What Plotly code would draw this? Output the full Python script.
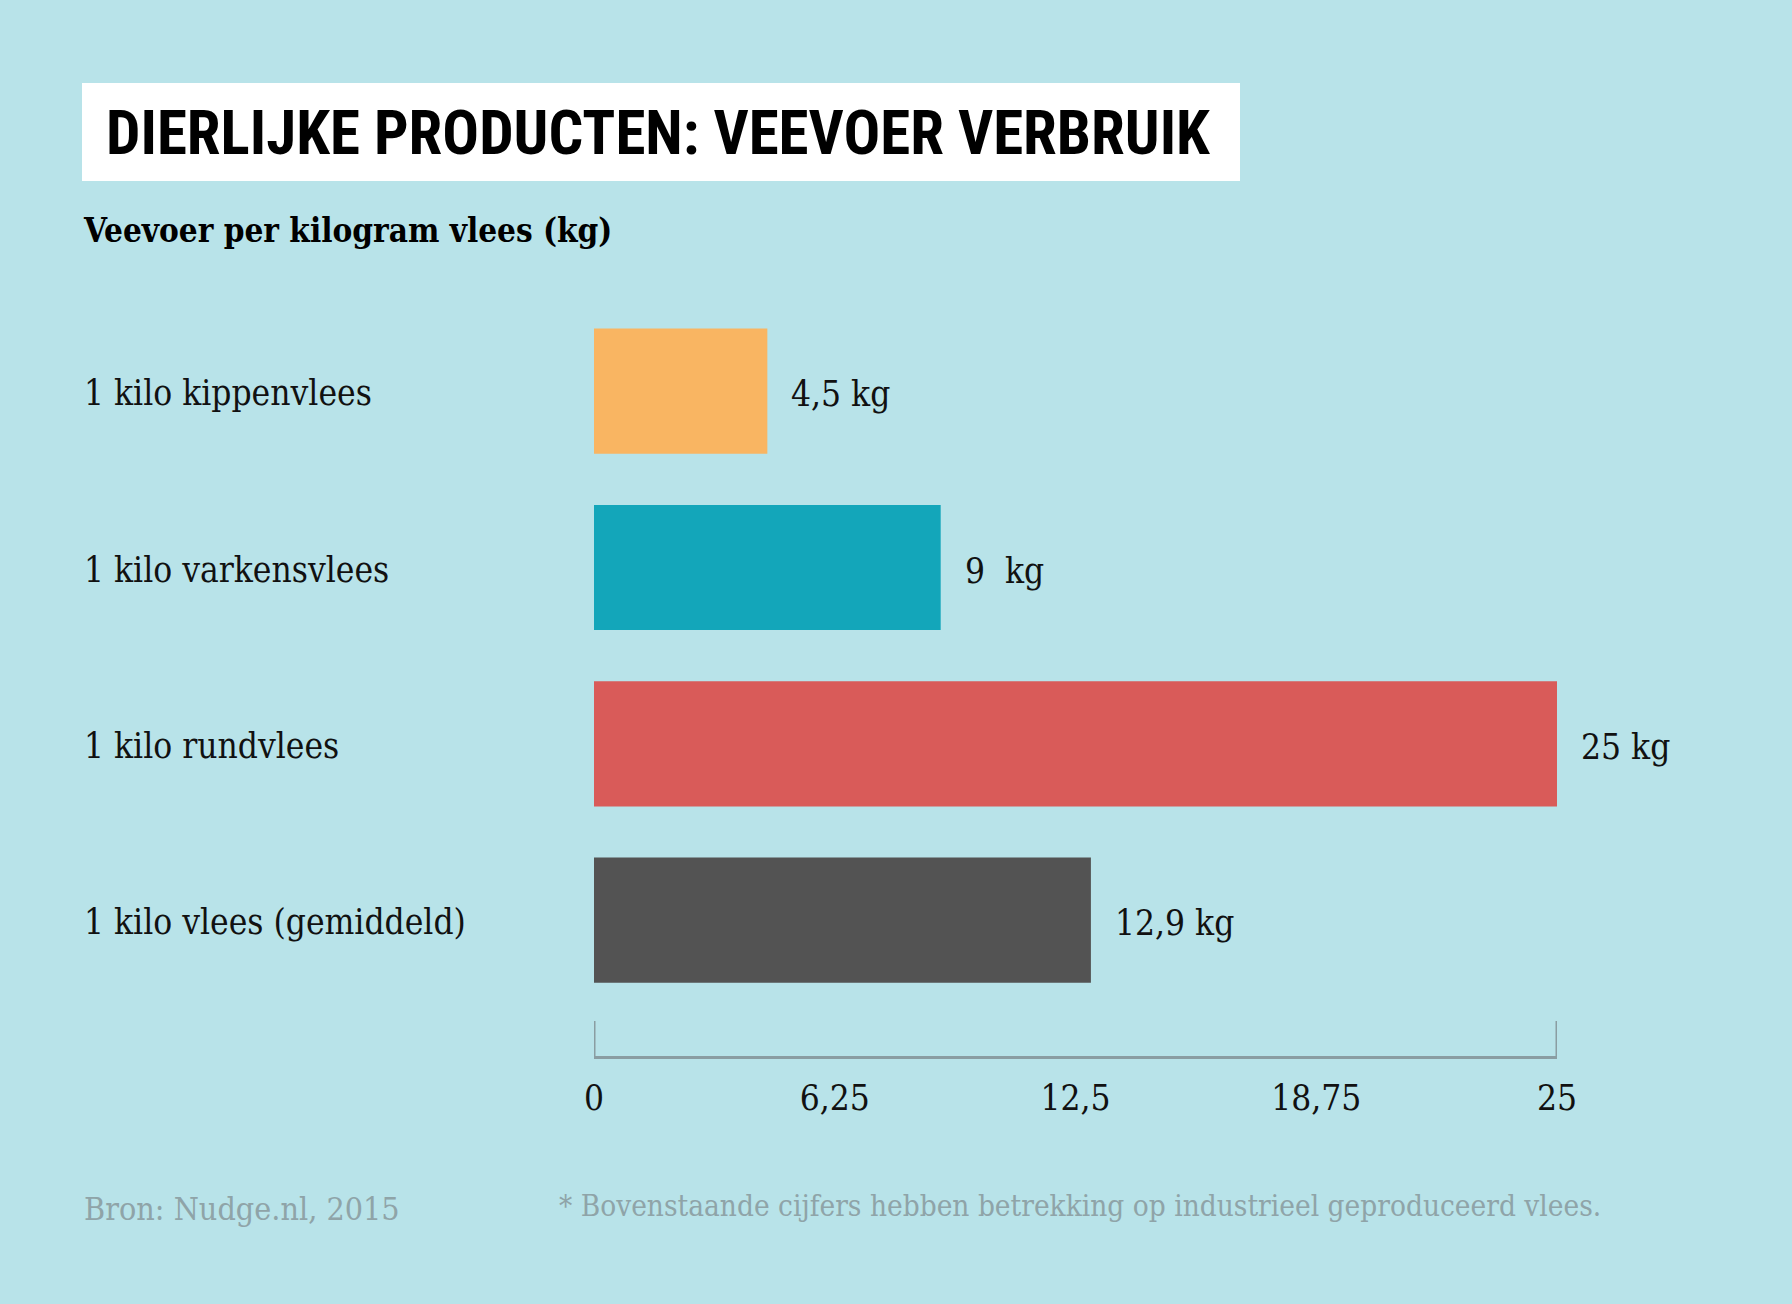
import plotly.graph_objects as go

# ---------------- data ----------------
categories = ["1 kilo kippenvlees", "1 kilo varkensvlees", "1 kilo rundvlees", "1 kilo vlees (gemiddeld)"]
values = [4.5, 9, 25, 12.9]
value_labels = ["4,5 kg", "9  kg", "25 kg", "12,9 kg"]
bar_colors = ["#F9B562", "#13A6BA", "#D95B59", "#535353"]
tick_values = [0, 6.25, 12.5, 18.75, 25]
tick_labels = ["0", "6,25", "12,5", "18,75", "25"]
end_ticks = [0, 25]
title_text = "DIERLIJKE PRODUCTEN: VEEVOER VERBRUIK"
subtitle_text = "Veevoer per kilogram vlees (kg)"
source_text = "Bron: Nudge.nl, 2015"
footnote_text = "* Bovenstaande cijfers hebben betrekking op industrieel geproduceerd vlees."

# ---------------- layout constants ----------------
W, H = 1792, 1304
L, R, T, B = 594, 235, 303, 248
PW, PH = W - L - R, H - T - B

BG = "#B8E3E9"
AXIS_COLOR = "#8A9DA2"
TEXT = "#111111"
FOOT = "#8FA4A8"

TITLE_FONT = "Liberation Sans Narrow, Roboto Condensed, Roboto, sans-serif"
LABEL_FONT = "DejaVu Serif Condensed, Liberation Serif, serif"


def px(x):
    return (x - L) / PW


def py(y):
    return (H - B - y) / PH


fig = go.Figure()
fig.add_trace(go.Bar(
    x=values, y=categories, orientation="h",
    marker=dict(color=bar_colors, line=dict(width=0)),
    hoverinfo="skip",
))

annotations = []
# value labels
for c, v, t in zip(categories, values, value_labels):
    annotations.append(dict(x=v, y=c, xref="x", yref="y", text=t, showarrow=False,
                            xanchor="left", yanchor="middle", xshift=22, yshift=-3,
                            font=dict(family=LABEL_FONT, size=35, color=TEXT)))
# category labels (left aligned)
for c in categories:
    annotations.append(dict(x=px(82), y=c, xref="paper", yref="y", text=c, showarrow=False,
                            xanchor="left", yanchor="middle", yshift=-2,
                            font=dict(family=LABEL_FONT, size=35, color=TEXT)))
# title, subtitle, footer
annotations += [
    dict(x=px(104), y=py(133), xref="paper", yref="paper", text=title_text, showarrow=False,
         xanchor="left", yanchor="middle",
         font=dict(family=TITLE_FONT, size=61, color="#000000", weight="bold")),
    dict(x=px(81), y=py(230), xref="paper", yref="paper", text="<b>" + subtitle_text + "</b>", showarrow=False,
         xanchor="left", yanchor="middle",
         font=dict(family=LABEL_FONT, size=33, color="#000000")),
    dict(x=px(82), y=py(1209), xref="paper", yref="paper", text=source_text, showarrow=False,
         xanchor="left", yanchor="middle",
         font=dict(family=LABEL_FONT, size=32, color=FOOT)),
    dict(x=px(557), y=py(1206), xref="paper", yref="paper", text=footnote_text, showarrow=False,
         xanchor="left", yanchor="middle",
         font=dict(family=LABEL_FONT, size=29.5, color=FOOT)),
]

shapes = [
    dict(type="rect", xref="paper", yref="paper", x0=px(82), x1=px(1240), y0=py(181), y1=py(83),
         fillcolor="#FFFFFF", line=dict(width=0), layer="below"),
]
# bracket end ticks of the axis, at the axis range ends
for v in end_ticks:
    shapes.append(dict(type="line", xref="x", yref="paper", x0=v, x1=v, y0=0, y1=35 / PH,
                       line=dict(color=AXIS_COLOR, width=3), layer="above"))

fig.update_layout(
    width=W, height=H,
    margin=dict(l=L, r=R, t=T, b=B, pad=0),
    paper_bgcolor=BG, plot_bgcolor=BG,
    showlegend=False,
    bargap=0.29,
    annotations=annotations,
    shapes=shapes,
    xaxis=dict(range=[0, 25], showgrid=False, zeroline=False,
               showline=True, linecolor=AXIS_COLOR, linewidth=3,
               tickmode="array", tickvals=tick_values, ticktext=tick_labels,
               ticks="", ticklabelstandoff=9,
               tickfont=dict(family=LABEL_FONT, size=35, color=TEXT), fixedrange=True),
    yaxis=dict(type="category", categoryorder="array", categoryarray=categories,
               range=[3.77, -0.5], showgrid=False, zeroline=False, showline=False,
               showticklabels=False, fixedrange=True),
)

fig.write_html("out.html", config={"displayModeBar": False},
               post_script="document.body.style.margin='0';document.body.style.overflow='hidden';")
